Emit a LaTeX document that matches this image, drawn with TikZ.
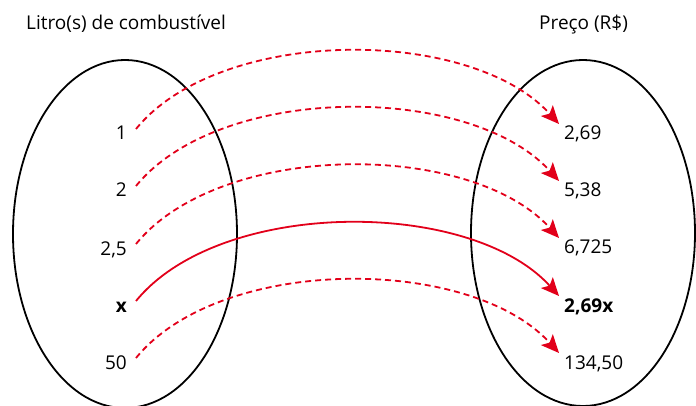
\documentclass[tikz,border=0pt]{standalone}
\usepackage{fontspec}
\setmainfont{Open Sans}
\usetikzlibrary{arrows.meta,calc}
\definecolor{arrred}{RGB}{226,0,26}
\begin{document}
\begin{tikzpicture}[x=1pt,y=-1pt,
  txt/.style={inner sep=0pt,font=\fontsize{19}{23}\selectfont},
  lft/.style={txt,anchor=base east},
  rgt/.style={txt,anchor=base west},
  setline/.style={line width=1.8pt,black},
  arr/.style={line width=1.8pt,arrred,-{Stealth[length=18pt,width=16pt,inset=4pt]}},
  dasharr/.style={arr,dash pattern=on 6pt off 4pt}]
\useasboundingbox (0,0) rectangle (696,406);
\clip (0,0) rectangle (696,406);
% sets
\draw[setline] (125,234) ellipse [x radius=112, y radius=174];
\draw[setline] (583,233) ellipse [x radius=112, y radius=173];
% titles
\node[txt,anchor=base west] (tl) at (26,30) {Litro(s) de combustível};
\node[txt,anchor=base west] (tr) at (539,30) {Preço (R\$)};
% left labels
\node[lft] (l1) at (127,140) {1};
\node[lft] (l2) at (127,197) {2};
\node[lft] (l3) at (127,255) {2,5};
\node[lft] (l4) at (127,312) {\bfseries x};
\node[lft] (l5) at (127,369) {50};
% right labels
\node[rgt] (r1) at (564,140) {2,69};
\node[rgt] (r2) at (564,197) {5,38};
\node[rgt] (r3) at (564,254) {6,725};
\node[rgt] (r4) at (564,312) {\bfseries 2,69x};
\node[rgt] (r5) at (564,369) {134,50};
% arrow ends
\foreach \i in {1,...,5}{
  \coordinate (s\i) at ([shift={(9,-11)}]l\i.base east);
  \coordinate (e\i) at ([shift={(-5,-16)}]r\i.base west);
}
\draw[dasharr] (s1) .. controls +(84,-103) and +(-89,-98) .. (e1);
\draw[dasharr] (s2) .. controls +(84,-103) and +(-89,-98) .. (e2);
\draw[dasharr] (s3) .. controls +(84,-103) and +(-89,-98) .. (e3);
\draw[arr] (s4) .. controls +(84,-103) and +(-89,-98) .. (e4);
\draw[dasharr] (s5) .. controls +(84,-103) and +(-89,-98) .. (e5);
\end{tikzpicture}
\end{document}
